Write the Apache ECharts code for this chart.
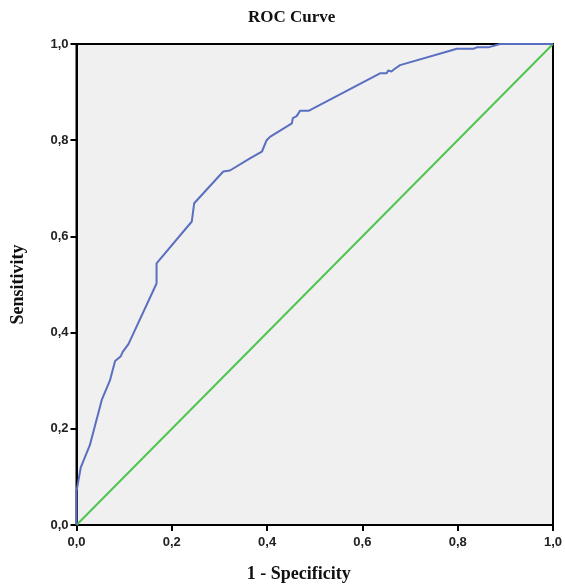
<!DOCTYPE html>
<html>
<head>
<meta charset="utf-8">
<script src="https://cdn.jsdelivr.net/npm/echarts@6/dist/echarts.min.js"></script>
<style>
  html, body { margin: 0; padding: 0; background: #fff; }
  #chart { width: 565px; height: 586px; }
</style>
</head>
<body>
<div id="chart"></div>
<script>
// 1 - specificity (false positive rate)
const fpr = [0, 0, 0.009, 0.028, 0.053, 0.070, 0.081, 0.093, 0.097, 0.109, 0.168, 0.168,
  0.242, 0.247, 0.308, 0.322, 0.364, 0.389, 0.399, 0.406, 0.452, 0.454, 0.462, 0.469,
  0.487, 0.637, 0.651, 0.654, 0.661, 0.666, 0.679, 0.784, 0.798, 0.833, 0.840, 0.864, 0.889, 1]
// sensitivity (true positive rate)
const tpr = [0, 0.07, 0.12, 0.166, 0.26, 0.30, 0.341, 0.351, 0.36, 0.376, 0.502, 0.544,
  0.631, 0.669, 0.735, 0.737, 0.762, 0.776, 0.80, 0.807, 0.835, 0.846, 0.85, 0.861,
  0.861, 0.939, 0.939, 0.945, 0.943, 0.947, 0.956, 0.986, 0.99, 0.99, 0.993, 0.993, 1.0, 1]
// reference diagonal
const diagX = [0, 1]
const diagY = [0, 1]

const chart = echarts.init(document.getElementById('chart'))

const fmt = v => v.toFixed(1).replace('.', ',')

const axisCommon = {
  type: 'value',
  min: 0,
  max: 1,
  interval: 0.2,
  axisLine: { show: true, onZero: false, lineStyle: { color: '#000', width: 2 } },
  axisTick: { show: true, length: 6, lineStyle: { color: '#000', width: 2 } },
  splitLine: { show: false },
  axisLabel: {
    formatter: fmt,
    color: '#222',
    fontFamily: 'Liberation Sans',
    fontWeight: 'bold',
    fontSize: 13
  },
  nameLocation: 'middle',
  nameTextStyle: {
    fontFamily: 'Liberation Serif',
    fontWeight: 'bold',
    fontSize: 18,
    color: '#111'
  }
}

chart.setOption({
  animation: false,
  title: {
    text: 'ROC Curve',
    left: 243,
    top: 4,
    textStyle: {
      fontFamily: 'Liberation Serif',
      fontWeight: 'bold',
      fontSize: 17,
      color: '#111'
    }
  },
  grid: {
    left: 76.5,
    right: 12,
    top: 44,
    bottom: 61,
    outerBoundsMode: 'none',
    containLabel: false,
    show: true,
    backgroundColor: '#f0f0f0',
    borderColor: '#000',
    borderWidth: 2
  },
  xAxis: Object.assign({}, axisCommon, {
    name: '1 - Specificity',
    nameGap: 40,
    nameTextStyle: Object.assign({}, axisCommon.nameTextStyle, { padding: [0, 32, 0, 0] }),
    axisLabel: Object.assign({}, axisCommon.axisLabel, { margin: 11 })
  }),
  yAxis: Object.assign({}, axisCommon, {
    name: 'Sensitivity',
    nameGap: 49,
    axisLabel: Object.assign({}, axisCommon.axisLabel, { margin: 8 })
  }),
  series: [
    {
      type: 'line',
      data: fpr.map((x, i) => [x, tpr[i]]),
      showSymbol: false,
      lineStyle: { color: '#5a6fc0', width: 2 },
      z: 3
    },
    {
      type: 'line',
      data: diagX.map((x, i) => [x, diagY[i]]),
      showSymbol: false,
      lineStyle: { color: '#4fc54f', width: 2 },
      z: 2
    }
  ]
})
</script>
</body>
</html>
